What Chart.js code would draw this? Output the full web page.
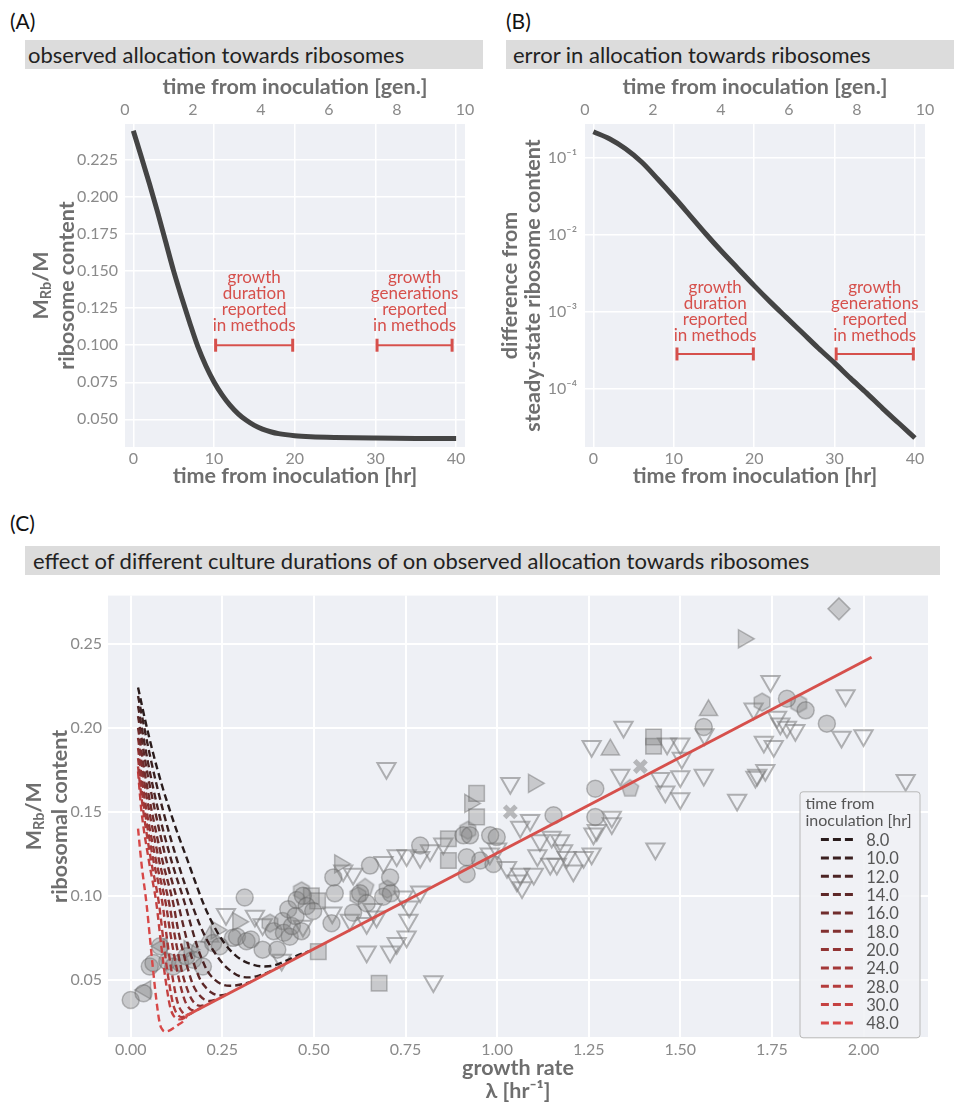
<!DOCTYPE html>
<html>
<head>
<meta charset="utf-8">
<script src="https://cdn.jsdelivr.net/npm/chart.js@4.4.1/dist/chart.umd.min.js"></script>
<style>
  body { margin: 0; background: #fff; font-family: Lato, sans-serif; }
  #page { position: relative; width: 954px; height: 1110px; overflow: hidden; }
  .lbl { position: absolute; font-size: 21px; color: #111; line-height: 24px; }
  .bar { position: absolute; height: 29px; line-height: 29px; background: #dcdcdc;
         font-size: 22px; color: #222; padding-left: 3px; box-sizing: border-box; white-space: nowrap; }
  canvas { position: absolute; }
</style>
</head>
<body>
<div id="page">
  <div class="lbl" style="left:10px;top:9px">(A)</div>
  <div class="lbl" style="left:506px;top:9px">(B)</div>
  <div class="lbl" style="left:10px;top:511px">(C)</div>
  <div class="bar" style="left:25px;top:40px;width:458px">observed allocation towards ribosomes</div>
  <div class="bar" style="left:506px;top:40px;width:448px;padding-left:7px">error in allocation towards ribosomes</div>
  <div class="bar" style="left:25px;top:546px;width:915px;padding-left:8px">effect of different culture durations of on observed allocation towards ribosomes</div>
  <canvas id="chartA" width="481" height="415" style="left:0;top:74px"></canvas>
  <canvas id="chartB" width="461" height="415" style="left:480px;top:74px"></canvas>
  <canvas id="chartC" width="954" height="523" style="left:0;top:580px"></canvas>
</div>
<script>
// ---- panel A / B : relaxation after inoculation ----
const hoursA = [0, 1, 2, 3, 4, 5, 6, 7, 8, 9, 10, 11, 12, 13, 14, 15, 16, 17, 18, 20, 22, 25, 30, 35, 40];
const ribosomeA = [0.2448, 0.227, 0.209, 0.190, 0.170, 0.150, 0.132, 0.115, 0.099, 0.086, 0.0752,
  0.0665, 0.0594, 0.0537, 0.0493, 0.0459, 0.0434, 0.0416, 0.0403, 0.0389, 0.0382, 0.0377, 0.0373, 0.0371, 0.037];

const hoursB = [0, 2, 4, 6, 8, 10, 12, 14, 16, 18, 20, 22, 24, 26, 28, 30, 32, 34, 36, 38, 40];
const diffB = [0.214, 0.174, 0.129, 0.087, 0.0525, 0.0309, 0.0178, 0.0102, 0.0060, 0.00363, 0.00219,
  0.00135, 0.00085, 0.000537, 0.000339, 0.000219, 0.000138, 0.0000891, 0.0000562, 0.0000363, 0.0000234];

const hrTicks = [0, 10, 20, 30, 40];
const genTicks = [0, 2, 4, 6, 8, 10];
const ticksA = [0.05, 0.075, 0.1, 0.125, 0.15, 0.175, 0.2, 0.225];
const ticksB = [1e-1, 1e-2, 1e-3, 1e-4];
const tickLabelsB = ['10⁻¹', '10⁻²', '10⁻³', '10⁻⁴'];

// reported-in-methods ranges [start, end] (hr) and the level they are drawn at
const durationA = [10.2, 19.75], generationsA = [30.2, 39.5], levelA = 0.1;
const durationB = [10.4, 19.9], generationsB = [30.2, 39.8], levelB = 2.86e-4;
const durationText = ['growth', 'duration', 'reported', 'in methods'];
const generationsText = ['growth', 'generations', 'reported', 'in methods'];

// ---- panel C ----
const lamTicks = [0, 0.25, 0.5, 0.75, 1.0, 1.25, 1.5, 1.75, 2.0];
const ribTicksC = [0.05, 0.1, 0.15, 0.2, 0.25];
const steadyLam = [0.15, 2.022];
const steadyRib = [0.0285, 0.242];

const cultureHours = [8, 10, 12, 14, 16, 18, 20, 24, 28, 30, 48];
const curveLam = [
  [0.02, 0.04, 0.061, 0.085, 0.1066, 0.13, 0.152, 0.175, 0.198, 0.22, 0.243, 0.266, 0.289, 0.31, 0.334, 0.36, 0.39, 0.425, 0.46, 0.49],
  [0.02, 0.054, 0.088, 0.127, 0.166, 0.19, 0.21, 0.23, 0.25, 0.275, 0.3, 0.325, 0.35, 0.375, 0.4],
  [0.02, 0.0475, 0.075, 0.111, 0.1475, 0.165, 0.18, 0.195, 0.21, 0.23, 0.25, 0.27, 0.29, 0.31, 0.33],
  [0.02, 0.043, 0.066, 0.0975, 0.129, 0.145, 0.16, 0.175, 0.19, 0.205, 0.22, 0.24, 0.255, 0.27],
  [0.02, 0.0385, 0.057, 0.0865, 0.116, 0.13, 0.145, 0.158, 0.17, 0.18, 0.19, 0.2, 0.215, 0.24],
  [0.02, 0.035, 0.05, 0.0775, 0.105, 0.118, 0.13, 0.142, 0.155, 0.165, 0.175, 0.19, 0.21],
  [0.02, 0.0315, 0.043, 0.069, 0.0956, 0.108, 0.12, 0.13, 0.14, 0.148, 0.155, 0.165, 0.175, 0.19],
  [0.02, 0.029, 0.038, 0.062, 0.0866, 0.098, 0.108, 0.117, 0.125, 0.133, 0.14, 0.15, 0.16, 0.17],
  [0.02, 0.027, 0.034, 0.0555, 0.077, 0.09, 0.1, 0.108, 0.115, 0.122, 0.13, 0.14, 0.15, 0.16],
  [0.02, 0.0245, 0.029, 0.0495, 0.07, 0.083, 0.092, 0.1, 0.108, 0.116, 0.125, 0.135, 0.145, 0.155],
  [0.02, 0.03, 0.043, 0.052, 0.061, 0.07, 0.079, 0.086, 0.093, 0.105, 0.118, 0.13, 0.143, 0.155]
];
const curveRib = [
  [0.224, 0.204, 0.185, 0.166, 0.151, 0.136, 0.123, 0.109, 0.0956, 0.085, 0.076, 0.069, 0.064, 0.061, 0.059, 0.058, 0.0585, 0.0615, 0.065, 0.0673],
  [0.219, 0.182, 0.151, 0.121, 0.0956, 0.082, 0.073, 0.066, 0.06, 0.055, 0.052, 0.0515, 0.0525, 0.0545, 0.0571],
  [0.213, 0.179, 0.151, 0.121, 0.0956, 0.082, 0.071, 0.062, 0.055, 0.05, 0.0472, 0.0465, 0.0468, 0.0477, 0.049],
  [0.207, 0.176, 0.151, 0.121, 0.0956, 0.081, 0.068, 0.058, 0.05, 0.0455, 0.0425, 0.0408, 0.041, 0.0422],
  [0.2, 0.173, 0.151, 0.121, 0.0956, 0.079, 0.065, 0.055, 0.047, 0.043, 0.0403, 0.0385, 0.0374, 0.0388],
  [0.194, 0.1705, 0.151, 0.121, 0.0956, 0.079, 0.065, 0.053, 0.044, 0.039, 0.036, 0.0345, 0.0354],
  [0.188, 0.168, 0.151, 0.121, 0.0956, 0.078, 0.063, 0.052, 0.043, 0.0375, 0.0345, 0.0322, 0.0318, 0.0331],
  [0.182, 0.165, 0.151, 0.121, 0.0956, 0.076, 0.06, 0.048, 0.039, 0.0335, 0.031, 0.0293, 0.0295, 0.0308],
  [0.177, 0.163, 0.151, 0.121, 0.0956, 0.072, 0.055, 0.044, 0.036, 0.0315, 0.0288, 0.0278, 0.0286, 0.0296],
  [0.174, 0.162, 0.151, 0.121, 0.0956, 0.071, 0.055, 0.043, 0.0335, 0.029, 0.0272, 0.0265, 0.0272, 0.0291],
  [0.14, 0.118, 0.0956, 0.076, 0.056, 0.038, 0.0243, 0.0205, 0.0193, 0.0198, 0.0215, 0.0233, 0.0253, 0.0291]
];
const curveColors = ['#2a1c1c', '#3b2020', '#4c2424', '#5e2828', '#702c2c', '#823030',
  '#923434', '#a33838', '#b43c3c', '#c54141', '#d84848'];

// measured data, [growth rate, ribosomal content]
const circles = [[0.0, 0.038], [0.035, 0.042], [0.052, 0.058], [0.062, 0.06], [0.08, 0.07], [0.1, 0.061],
  [0.116, 0.058], [0.135, 0.06], [0.152, 0.064], [0.17, 0.062], [0.189, 0.068], [0.197, 0.058], [0.225, 0.072],
  [0.243, 0.07], [0.279, 0.075], [0.29, 0.0757], [0.311, 0.099], [0.316, 0.073], [0.328, 0.074], [0.36, 0.068],
  [0.39, 0.079], [0.4, 0.068], [0.415, 0.085], [0.418, 0.078], [0.43, 0.092], [0.434, 0.0757], [0.44, 0.082],
  [0.45, 0.088], [0.453, 0.0975], [0.466, 0.079], [0.47, 0.1], [0.48, 0.094], [0.498, 0.091], [0.548, 0.0837],
  [0.553, 0.111], [0.557, 0.1015], [0.607, 0.09], [0.626, 0.1015], [0.644, 0.0956], [0.653, 0.118],
  [0.689, 0.0995], [0.708, 0.111], [0.71, 0.1015], [0.79, 0.13], [0.908, 0.136], [0.926, 0.136], [0.917, 0.123],
  [0.917, 0.113], [0.954, 0.121], [0.981, 0.136], [0.99, 0.119], [0.999, 0.135], [1.154, 0.148],
  [1.268, 0.1638], [1.268, 0.147], [1.564, 0.2005], [1.791, 0.2173], [1.842, 0.2104], [1.9, 0.2025]];
const hexagons = [[0.38, 0.0837], [0.466, 0.103], [0.62, 0.1], [0.7, 0.104], [0.92, 0.139], [1.723, 0.2153], [1.823, 0.2144]];
const pentagons = [[0.64, 0.105], [1.363, 0.1638]];
const squares = [[0.493, 0.1], [0.51, 0.097], [0.512, 0.0668], [0.678, 0.048], [0.867, 0.134], [0.867, 0.121],
  [0.944, 0.161], [0.944, 0.147], [1.427, 0.1945], [1.427, 0.189]];
const rightTris = [[0.16, 0.068], [0.234, 0.0797], [0.293, 0.0846], [0.571, 0.119], [0.926, 0.155], [1.1, 0.167], [1.673, 0.253]];
const leftTris = [[0.04, 0.044], [0.085, 0.07]];
const upTris = [[0.216, 0.0757], [1.309, 0.187], [1.577, 0.2104]];
const diamonds = [[1.933, 0.2708]];
const crosses = [[1.036, 0.15], [1.391, 0.177]];
const downTris = [[0.26, 0.089], [0.339, 0.088], [0.36, 0.083], [0.412, 0.0619], [0.47, 0.082], [0.55, 0.09],
  [0.58, 0.115], [0.598, 0.0856], [0.607, 0.113], [0.644, 0.0837], [0.644, 0.0668], [0.66, 0.092], [0.671, 0.0876],
  [0.69, 0.12], [0.698, 0.176], [0.708, 0.0668], [0.726, 0.124], [0.726, 0.0718], [0.744, 0.0995], [0.753, 0.124],
  [0.753, 0.0757], [0.758, 0.0856], [0.76, 0.0935], [0.79, 0.123], [0.79, 0.1025], [0.817, 0.127], [0.826, 0.049],
  [0.853, 0.131], [0.98, 0.125], [1.0, 0.128], [1.027, 0.117], [1.036, 0.167], [1.054, 0.109], [1.063, 0.113],
  [1.068, 0.105], [1.063, 0.141], [1.09, 0.145], [1.1, 0.113], [1.11, 0.124], [1.117, 0.133], [1.145, 0.119],
  [1.149, 0.135], [1.163, 0.119], [1.172, 0.133], [1.18, 0.127], [1.19, 0.123], [1.208, 0.115], [1.236, 0.123],
  [1.258, 0.125], [1.263, 0.137], [1.258, 0.189], [1.272, 0.139], [1.313, 0.147], [1.313, 0.143], [1.336, 0.172],
  [1.345, 0.2005], [1.432, 0.128], [1.445, 0.17], [1.459, 0.162], [1.464, 0.1906], [1.5, 0.1906], [1.504, 0.182],
  [1.5, 0.171], [1.5, 0.158], [1.564, 0.172], [1.566, 0.196], [1.655, 0.157], [1.7, 0.2114], [1.705, 0.1708],
  [1.71, 0.172], [1.728, 0.1916], [1.732, 0.1747], [1.746, 0.2277], [1.755, 0.189], [1.764, 0.2064],
  [1.773, 0.2025], [1.791, 0.2005], [1.814, 0.1985], [1.94, 0.1945], [1.951, 0.2193], [2.0, 0.1955], [2.115, 0.1688]];

// ---- styling ----
Chart.defaults.font.family = 'Lato';
const red = '#d6504c';
const tickColor = '#8a8a8a';
const titleColor = '#6e6e6e';
const plotBgColor = '#eef0f5';
const markFill = 'rgba(128,128,128,0.35)';
const markEdge = 'rgba(95,95,95,0.4)';
const tickFont = { size: 16 };
const titleFont = { size: 21.5, weight: 'bold' };

const plotBg = {
  id: 'plotBg',
  beforeDraw(chart) {
    const { ctx, chartArea: a } = chart;
    ctx.save();
    ctx.fillStyle = plotBgColor;
    ctx.fillRect(a.left, a.top, a.width, a.height);
    ctx.restore();
  }
};

function setTicks(values) {
  return (s) => { s.ticks = values.map((v) => ({ value: v })); };
}

function pairs(xs, ys) {
  return xs.map((x, i) => ({ x: x, y: ys[i] }));
}

// M_Rb/M with a real subscript, plus a second plain line, rotated
function drawRbTitle(chart, second, x1, x2) {
  const { ctx, chartArea: a } = chart;
  const cy = (a.top + a.bottom) / 2;
  const big = 'bold 21.5px Lato', small = 'bold 14.5px Lato';
  ctx.save();
  ctx.fillStyle = titleColor;
  ctx.textBaseline = 'middle';
  ctx.textAlign = 'left';
  ctx.translate(x1, cy);
  ctx.rotate(-Math.PI / 2);
  ctx.font = big;
  const wM = ctx.measureText('M').width, wS = ctx.measureText('/M').width;
  ctx.font = small;
  const wR = ctx.measureText('Rb').width;
  let x = -(wM + wR + wS) / 2;
  ctx.font = big; ctx.fillText('M', x, 0); x += wM;
  ctx.font = small; ctx.fillText('Rb', x, 5); x += wR;
  ctx.font = big; ctx.fillText('/M', x, 0);
  ctx.restore();
  ctx.save();
  ctx.fillStyle = titleColor;
  ctx.font = big;
  ctx.textAlign = 'center';
  ctx.textBaseline = 'middle';
  ctx.translate(x2, cy);
  ctx.rotate(-Math.PI / 2);
  ctx.fillText(second, 0, 0);
  ctx.restore();
}

function noteText(ranges, level, texts, gap) {
  return {
    id: 'notes',
    afterDatasetsDraw(chart) {
      const { ctx, scales } = chart;
      ctx.save();
      ctx.fillStyle = red;
      ctx.font = '17px Lato';
      ctx.textAlign = 'center';
      ctx.textBaseline = 'middle';
      ranges.forEach((r, k) => {
        const cx = scales.x.getPixelForValue((r[0] + r[1]) / 2);
        const y0 = scales.y.getPixelForValue(level) - gap;
        const lines = texts[k];
        lines.forEach((t, i) => ctx.fillText(t, cx, y0 - (lines.length - 1 - i) * 16));
      });
      ctx.restore();
    }
  };
}

function rangeSet(r, level) {
  return {
    data: [{ x: r[0], y: level }, { x: r[1], y: level }],
    borderColor: red, borderWidth: 2,
    pointStyle: 'line', rotation: 90, pointRadius: 6.5,
    pointBorderColor: red, pointBorderWidth: 3
  };
}

function timeScales(xmin, xmax) {
  return {
    x: {
      type: 'linear', min: xmin, max: xmax,
      afterBuildTicks: setTicks(hrTicks),
      grid: { color: '#ffffff', lineWidth: 1.5, drawTicks: false },
      border: { display: false },
      ticks: { color: tickColor, font: tickFont, padding: 2.4 },
      title: { display: true, text: 'time from inoculation [hr]', color: titleColor, font: titleFont, padding: 0 },
      afterFit: (s) => { s.height = 42; }
    },
    x2: {
      type: 'linear', position: 'top', min: 0, max: 10,
      afterBuildTicks: setTicks(genTicks),
      grid: { display: false, drawTicks: false },
      border: { display: false },
      ticks: { color: tickColor, font: tickFont, padding: 4.4 },
      title: { display: true, text: 'time from inoculation [gen.]', color: titleColor, font: titleFont, padding: 0 },
      afterFit: (s) => { s.height = 50; }
    }
  };
}

// ---- chart A ----
const scalesA = timeScales(-1.03, 41.1);
scalesA.y = {
  min: 0.0313, max: 0.2493,
  afterBuildTicks: setTicks(ticksA),
  grid: { color: '#ffffff', lineWidth: 1.5, drawTicks: false },
  border: { display: false },
  ticks: { color: tickColor, font: tickFont, padding: 7, callback: (v) => v.toFixed(3) },
  afterFit: (s) => { s.width = 125; }
};
new Chart(document.getElementById('chartA'), {
  type: 'line',
  data: {
    datasets: [
      { data: pairs(hoursA, ribosomeA), borderColor: '#444444', borderWidth: 5, pointRadius: 0,
        cubicInterpolationMode: 'monotone' },
      rangeSet(durationA, levelA),
      rangeSet(generationsA, levelA)
    ]
  },
  options: {
    responsive: false, animation: false, events: [],
    layout: { padding: { top: 0, right: 16, bottom: 0, left: 0 } },
    plugins: { legend: { display: false }, tooltip: { enabled: false } },
    scales: scalesA
  },
  plugins: [plotBg, noteText([durationA, generationsA], levelA, [durationText, generationsText], 20),
    { id: 'ytA', afterDraw: (c) => drawRbTitle(c, 'ribosome content', c.chartArea.left - 84, c.chartArea.left - 58) }]
});

// ---- chart B ----
const scalesB = timeScales(-1.04, 41.25);
scalesB.y = {
  type: 'logarithmic', min: 1.79e-5, max: 0.27,
  afterBuildTicks: setTicks(ticksB),
  grid: { color: '#ffffff', lineWidth: 1.5, drawTicks: false },
  border: { display: false },
  ticks: { color: tickColor, font: tickFont, padding: 8, callback: (v, i) => tickLabelsB[i] },
  title: { display: true, text: ['difference from', 'steady-state ribosome content'], color: titleColor,
    font: { size: 21.5, weight: 'bold', lineHeight: 1.08 }, padding: { top: 18.4, bottom: 0 } },
  afterFit: (s) => { s.width = 105; }
};
new Chart(document.getElementById('chartB'), {
  type: 'line',
  data: {
    datasets: [
      { data: pairs(hoursB, diffB), borderColor: '#444444', borderWidth: 5, pointRadius: 0,
        cubicInterpolationMode: 'monotone' },
      rangeSet(durationB, levelB),
      rangeSet(generationsB, levelB)
    ]
  },
  options: {
    responsive: false, animation: false, events: [],
    layout: { padding: { top: 0, right: 16, bottom: 0, left: 0 } },
    plugins: { legend: { display: false }, tooltip: { enabled: false } },
    scales: scalesB
  },
  plugins: [plotBg, noteText([durationB, generationsB], levelB, [durationText, generationsText], 18)]
});

// ---- chart C ----
function polyMarker(n, r, rot) {
  const c = document.createElement('canvas');
  const s = Math.ceil(2 * r + 4);
  c.width = c.height = s;
  const g = c.getContext('2d');
  g.beginPath();
  for (let i = 0; i < n; i++) {
    const a = rot + i * 2 * Math.PI / n;
    const px = s / 2 + r * Math.sin(a), py = s / 2 - r * Math.cos(a);
    if (i) g.lineTo(px, py); else g.moveTo(px, py);
  }
  g.closePath();
  g.fillStyle = markFill; g.fill();
  g.strokeStyle = markEdge; g.lineWidth = 1.5; g.stroke();
  return c;
}

function markerSet(pts, style, radius, rotation, hollow) {
  return {
    type: 'scatter', order: 2,
    data: pts.map((p) => ({ x: p[0], y: p[1] })),
    pointStyle: style, pointRadius: radius, rotation: rotation,
    backgroundColor: hollow ? 'rgba(0,0,0,0)' : markFill,
    borderColor: hollow ? 'rgba(120,120,120,0.55)' : markEdge,
    borderWidth: hollow ? 2 : 1.5
  };
}

const datasetsC = [
  { type: 'line', order: 0, data: pairs(steadyLam, steadyRib), borderColor: red, borderWidth: 3, pointRadius: 0 }
];
cultureHours.forEach((h, k) => {
  datasetsC.push({
    type: 'line', order: 1, label: h.toFixed(1),
    data: pairs(curveLam[k], curveRib[k]),
    borderColor: curveColors[k], borderWidth: 2.4, borderDash: [7, 4],
    pointRadius: 0, cubicInterpolationMode: 'monotone'
  });
});
datasetsC.push(
  markerSet(downTris, 'triangle', 10.5, 180, true),
  markerSet(circles, 'circle', 8.5, 0, false),
  markerSet(squares, 'rect', 11, 0, false),
  markerSet(rightTris, 'triangle', 10.5, 90, false),
  markerSet(leftTris, 'triangle', 10.5, -90, false),
  markerSet(upTris, 'triangle', 10.5, 0, false),
  markerSet(diamonds, 'rectRot', 11, 0, false),
  markerSet(crosses, 'crossRot', 8, 0, false),
  markerSet(hexagons, polyMarker(6, 9, 0), 9, 0, false),
  markerSet(pentagons, polyMarker(5, 9, 0), 9, 0, false)
);
datasetsC[datasetsC.length - 3].borderWidth = 5;

const legendC = {
  id: 'legendC',
  afterDraw(chart) {
    const { ctx, chartArea: a } = chart;
    const x0 = a.right - 128.5, y0 = a.top + 195.7, w = 120, h = 246;
    ctx.save();
    ctx.fillStyle = 'rgba(240,241,245,0.85)';
    ctx.strokeStyle = '#b8b8b8';
    ctx.lineWidth = 1;
    ctx.beginPath();
    ctx.roundRect(x0 + 0.5, y0 + 0.5, w, h, 3);
    ctx.fill(); ctx.stroke();
    ctx.fillStyle = '#555';
    ctx.font = '16px Lato';
    ctx.textBaseline = 'middle';
    ctx.fillText('time from', x0 + 6, y0 + 12.6);
    ctx.fillText('inoculation [hr]', x0 + 6, y0 + 30);
    ctx.font = '16.5px Lato';
    cultureHours.forEach((hr, i) => {
      const y = y0 + 48.3 + i * 18.33;
      ctx.strokeStyle = curveColors[i];
      ctx.lineWidth = 3;
      ctx.setLineDash([8, 4]);
      ctx.beginPath();
      ctx.moveTo(x0 + 21.4, y);
      ctx.lineTo(x0 + 53.4, y);
      ctx.stroke();
      ctx.setLineDash([]);
      ctx.fillStyle = '#555';
      ctx.fillText(hr.toFixed(1), x0 + 66.7, y + 1);
    });
    ctx.restore();
  }
};

new Chart(document.getElementById('chartC'), {
  type: 'scatter',
  data: { datasets: datasetsC },
  options: {
    responsive: false, animation: false, events: [],
    layout: { padding: { top: 15, right: 26, bottom: 0, left: 0 } },
    plugins: { legend: { display: false }, tooltip: { enabled: false } },
    scales: {
      x: {
        type: 'linear', min: -0.062, max: 2.176,
        afterBuildTicks: setTicks(lamTicks),
        grid: { color: '#ffffff', lineWidth: 2, drawTicks: false },
        border: { display: false },
        ticks: { color: tickColor, font: tickFont, padding: 3.4, callback: (v) => v.toFixed(2) },
        title: { display: true, text: ['growth rate', 'λ [hr⁻¹]'], color: titleColor,
          font: { size: 21.5, weight: 'bold', lineHeight: 1.07 }, padding: 0 },
        afterFit: (s) => { s.height = 66; }
      },
      y: {
        min: 0.016, max: 0.2787,
        afterBuildTicks: setTicks(ribTicksC),
        grid: { color: '#ffffff', lineWidth: 2, drawTicks: false },
        border: { display: false },
        ticks: { color: tickColor, font: tickFont, padding: 6, callback: (v) => v.toFixed(2) },
        afterFit: (s) => { s.width = 108; }
      }
    }
  },
  plugins: [plotBg, legendC,
    { id: 'ytC', afterDraw: (c) => drawRbTitle(c, 'ribosomal content', c.chartArea.left - 74, c.chartArea.left - 48) }]
});
</script>
</body>
</html>
